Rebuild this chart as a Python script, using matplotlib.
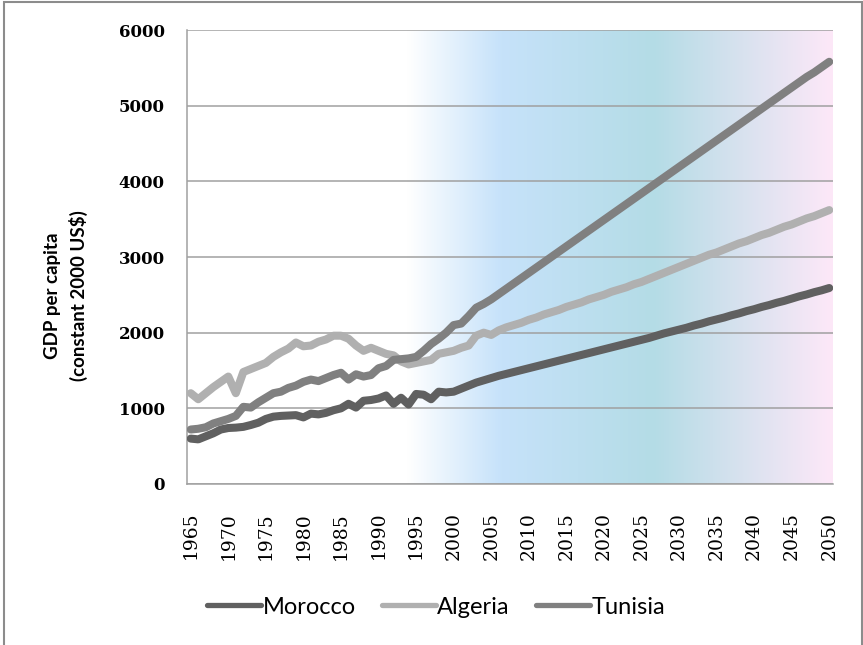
import matplotlib.pyplot as plt
import numpy as np
from matplotlib.colors import LinearSegmentedColormap
from matplotlib.patches import Rectangle

years = np.arange(1965, 2051)

morocco = [600, 590, 630, 670, 720, 740, 745, 755, 780, 810,
           860, 890, 900, 905, 910, 880, 930, 920, 940, 975,
           1000, 1060, 1010, 1100, 1110, 1130, 1170, 1060, 1140, 1050,
           1190, 1180, 1120, 1220, 1210, 1220, 1260, 1300, 1340, 1370,
           1400, 1430, 1455, 1480, 1505, 1530, 1555, 1580, 1605, 1630,
           1655, 1680, 1705, 1730, 1755, 1780, 1805, 1830, 1855, 1880,
           1905, 1930, 1960, 1990, 2015, 2040, 2065, 2095, 2120, 2150,
           2175, 2200, 2230, 2255, 2285, 2310, 2340, 2365, 2395, 2420,
           2450, 2480, 2505, 2535, 2560, 2590]
algeria = [1200, 1120, 1200, 1280, 1350, 1420, 1200, 1480, 1520, 1560,
           1600, 1680, 1740, 1790, 1870, 1820, 1830, 1880, 1910, 1960,
           1960, 1920, 1830, 1760, 1800, 1760, 1720, 1700, 1620, 1580,
           1600, 1620, 1640, 1720, 1740, 1760, 1800, 1830, 1960, 2000,
           1970, 2030, 2070, 2100, 2130, 2170, 2200, 2240, 2270, 2300,
           2340, 2370, 2400, 2440, 2470, 2500, 2540, 2570, 2600, 2640,
           2670, 2710, 2750, 2790, 2830, 2870, 2910, 2950, 2990, 3030,
           3060, 3100, 3140, 3180, 3210, 3250, 3290, 3320, 3360, 3400,
           3430, 3470, 3510, 3540, 3580, 3620]
tunisia = [720, 730, 750, 800, 830, 860, 900, 1020, 1010, 1080,
           1140, 1200, 1220, 1270, 1300, 1350, 1380, 1360, 1400, 1440,
           1470, 1380, 1450, 1420, 1440, 1530, 1560, 1640, 1650, 1660,
           1680, 1760, 1850, 1920, 2000, 2100, 2120, 2220, 2330, 2380,
           2440, 2510, 2580, 2650, 2720, 2790, 2860, 2930, 3000, 3070,
           3140, 3210, 3280, 3350, 3420, 3490, 3560, 3630, 3700, 3770,
           3840, 3910, 3980, 4050, 4120, 4190, 4260, 4330, 4400, 4470,
           4540, 4610, 4680, 4750, 4820, 4890, 4960, 5030, 5100, 5170,
           5240, 5310, 5380, 5440, 5510, 5580]

tick_years = np.arange(1965, 2051, 5)
y_ticks = np.arange(0, 6001, 1000)

fig = plt.figure(figsize=(8.63, 6.45), dpi=100)
ax = fig.add_axes([187 / 863, 1 - 484 / 645, 646 / 863, 454 / 645])

# projection period shading
cmap = LinearSegmentedColormap.from_list(
    'proj', [(0, '#ffffff'), (0.22, '#c6e2fa'), (0.58, '#b4dce6'), (1, '#fde8f8')])
grad = np.linspace(0, 1, 256).reshape(1, -1)
ax.imshow(grad, cmap=cmap, aspect='auto', extent=[1993.8, 2050.5, 0, 6000],
          zorder=0, interpolation='bicubic')

ax.plot(years, morocco, color='#606060', lw=5.8, label='Morocco',
        solid_capstyle='round', solid_joinstyle='round', zorder=3)
ax.plot(years, algeria, color='#b0b0b0', lw=5.8, label='Algeria',
        solid_capstyle='round', solid_joinstyle='round', zorder=3)
ax.plot(years, tunisia, color='#808080', lw=5.8, label='Tunisia',
        solid_capstyle='round', solid_joinstyle='round', zorder=4)

ax.set_xlim(1964.5, 2050.5)
ax.set_ylim(0, 6000)
ax.set_xticks(tick_years)
ax.set_xticklabels([str(y) for y in tick_years], rotation=90,
                   family='DejaVu Serif', fontsize=13.5)
ax.set_yticks(y_ticks)
ax.set_yticklabels([str(v) for v in y_ticks], family='DejaVu Serif',
                   fontsize=12, fontweight='bold')
ax.tick_params(axis='x', length=0, pad=20)
ax.tick_params(axis='y', length=0, pad=16)

ax.grid(axis='y', color='#a0a0a0', lw=1.1, zorder=1)
ax.set_axisbelow(True)
ax.spines['top'].set_visible(False)
ax.spines['right'].set_visible(False)
ax.spines['left'].set_color('#a0a0a0')
ax.spines['bottom'].set_color('#a0a0a0')
ax.spines['left'].set_linewidth(1.1)
ax.spines['bottom'].set_linewidth(1.1)

fig.text(66 / 863, 1 - 296 / 645, 'GDP per capita\n(constant 2000 US$)',
         rotation=90, ha='center', va='center', family='Lato',
         fontweight='bold', fontsize=13.5, linespacing=1.45)

leg = fig.legend(loc='center', bbox_to_anchor=(436 / 863, 1 - 607 / 645), ncol=3,
                 frameon=False, prop={'family': 'Lato', 'size': 17},
                 handlelength=2.3, handletextpad=0.05, columnspacing=1.1)
for line in leg.get_lines():
    line.set_linewidth(3.8)

# outer chart border
fig.add_artist(Rectangle((3.5 / 863, -0.1), 858 / 863, 1.1 - 1.5 / 645,
                         transform=fig.transFigure, fill=False,
                         edgecolor='#8c8c8c', lw=1.5))

fig.savefig('out.png', dpi=100)
